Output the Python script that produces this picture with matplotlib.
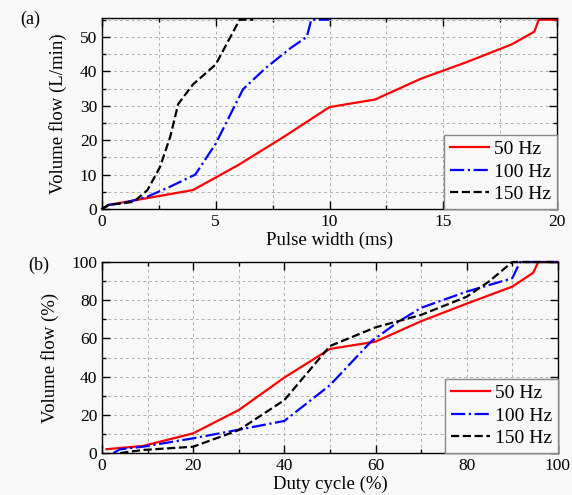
import numpy as np
import matplotlib.pyplot as plt
from matplotlib.ticker import MultipleLocator

plt.rcParams['font.family'] = ['Liberation Serif', 'DejaVu Serif']

# (a) volume flow vs pulse width
pw_50 = [0, 0.3, 4, 6, 8, 10, 12, 14, 16, 18, 19, 19.2, 20]
vf_50 = [0, 1.2, 5.5, 12.8, 21, 29.6, 31.8, 37.8, 42.6, 47.8, 51.5, 55, 55]
pw_100 = [0, 0.3, 1, 2, 3, 4.1, 5, 6.2, 7.2, 8.3, 9.0, 9.2, 10]
vf_100 = [0, 1.2, 1.8, 3.6, 6.5, 10, 19, 34.8, 41, 46.8, 50, 55, 55]
pw_150 = [0, 0.3, 1.4, 2, 2.55, 3.0, 3.35, 4.0, 5.0, 6.05, 6.65]
vf_150 = [0, 1.2, 2.1, 5.5, 12.2, 21, 30.5, 36.2, 42, 55, 55]

# (b) volume flow (%) vs duty cycle
dc_50 = [1, 9, 20, 30, 40, 50, 60, 70, 80, 90, 94.6, 95.7, 100]
vp_50 = [2, 3.7, 10.3, 22.5, 39.5, 54.5, 58.3, 69, 78.2, 87.1, 94.4, 100, 100]
dc_100 = [2.5, 4, 9, 20, 30, 40, 50, 59, 65, 70, 80, 90, 91.7, 100]
vp_100 = [0, 2, 3.3, 7.7, 12.2, 16.8, 35.5, 58.3, 68.7, 76, 84.5, 91.5, 100, 100]
dc_150 = [4, 9, 20, 30, 40, 50, 60, 70, 80, 85, 90, 100]
vp_150 = [0, 1.6, 3.3, 12, 27.7, 56, 65.8, 72.3, 81.8, 90, 100, 100]

labels = ['50 Hz', '100 Hz', '150 Hz']
bg = '#f8f8f8'

fig = plt.figure(figsize=(5.72, 4.95), dpi=100, facecolor=bg)
ax1 = fig.add_axes([0.1783, 0.5778, 0.7955, 0.3859], facecolor=bg)
ax2 = fig.add_axes([0.1783, 0.0848, 0.797, 0.3859], facecolor=bg)

ax1.plot(pw_50, vf_50, color='red', lw=1.6, ls='-', label=labels[0], clip_on=False)
ax1.plot(pw_100, vf_100, color='blue', lw=1.6, ls='-.', label=labels[1], clip_on=False)
ax1.plot(pw_150, vf_150, color='black', lw=1.6, ls='--', label=labels[2], clip_on=False)

ax2.plot(dc_50, vp_50, color='red', lw=1.6, ls='-', label=labels[0], clip_on=False)
ax2.plot(dc_100, vp_100, color='blue', lw=1.6, ls='-.', label=labels[1], clip_on=False)
ax2.plot(dc_150, vp_150, color='black', lw=1.6, ls='--', label=labels[2], clip_on=False)

ax1.set_xlim(0, 20)
ax1.set_ylim(0, 55.5)
ax1.xaxis.set_major_locator(MultipleLocator(5))
ax1.xaxis.set_minor_locator(MultipleLocator(2.5))
ax1.yaxis.set_major_locator(MultipleLocator(10))
ax1.yaxis.set_minor_locator(MultipleLocator(5))
ax1.set_xlabel('Pulse width (ms)', fontsize=13.5, labelpad=1)
ax1.set_ylabel('Volume flow (L/min)', fontsize=13.5, labelpad=9)

ax2.set_xlim(0, 100)
ax2.set_ylim(0, 100)
ax2.xaxis.set_major_locator(MultipleLocator(20))
ax2.xaxis.set_minor_locator(MultipleLocator(10))
ax2.yaxis.set_major_locator(MultipleLocator(20))
ax2.yaxis.set_minor_locator(MultipleLocator(10))
ax2.set_xlabel('Duty cycle (%)', fontsize=13.5, labelpad=1)
ax2.set_ylabel('Volume flow (%)', fontsize=13.5, labelpad=9)

for ax in (ax1, ax2):
    ax.grid(True, which='both', ls=(0, (3, 3)), color='#b0b0b0', lw=0.7)
    ax.tick_params(which='both', direction='in', top=True, right=True, labelsize=12.5)
    ax.tick_params(which='major', length=6, width=1)
    ax.tick_params(which='minor', length=3, width=1)
    for s in ax.spines.values():
        s.set_linewidth(1)
    leg = ax.legend(loc='lower right', fontsize=14, handlelength=2.0, handletextpad=0.25,
                    borderaxespad=0, borderpad=0.3, labelspacing=0.25, fancybox=False,
                    framealpha=1, edgecolor='#888888', facecolor=bg)

fig.text(0.035, 0.952, '(a)', fontsize=13)
fig.text(0.05, 0.455, '(b)', fontsize=13)

fig.savefig('out.png', dpi=100, facecolor=bg)
